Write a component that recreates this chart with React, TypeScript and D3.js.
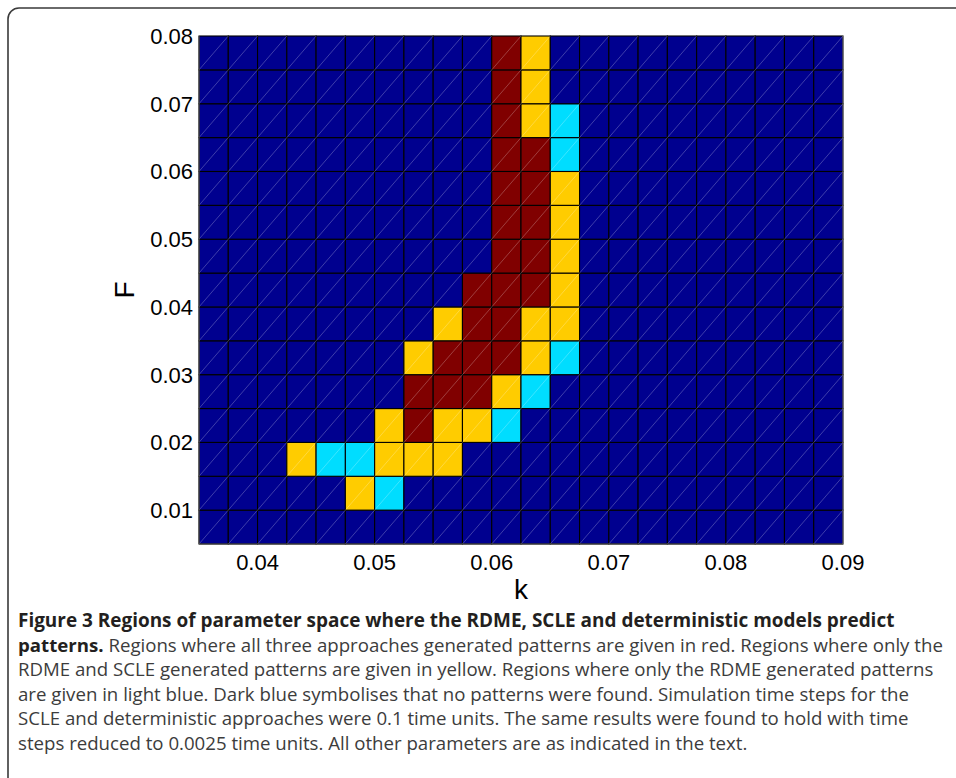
import React from "react";
import * as d3 from "d3";

// Grid cell lower-left corners (k, F)
const kCells = [0.035, 0.0375, 0.04, 0.0425, 0.045, 0.0475, 0.05, 0.0525, 0.055, 0.0575, 0.06, 0.0625, 0.065, 0.0675, 0.07, 0.0725, 0.075, 0.0775, 0.08, 0.0825, 0.085, 0.0875];
const FCells = [0.005, 0.01, 0.015, 0.02, 0.025, 0.03, 0.035, 0.04, 0.045, 0.05, 0.055, 0.06, 0.065, 0.07, 0.075];
const kStep = 0.0025;
const FStep = 0.005;

// All three approaches (red)
const redCells: [number, number][] = [
  [0.06, 0.075], [0.06, 0.07], [0.06, 0.065],
  [0.06, 0.06], [0.0625, 0.06],
  [0.06, 0.055], [0.0625, 0.055],
  [0.06, 0.05], [0.0625, 0.05],
  [0.06, 0.045], [0.0625, 0.045],
  [0.0575, 0.04], [0.06, 0.04], [0.0625, 0.04],
  [0.0575, 0.035], [0.06, 0.035],
  [0.055, 0.03], [0.0575, 0.03], [0.06, 0.03],
  [0.0525, 0.025], [0.055, 0.025], [0.0575, 0.025],
  [0.0525, 0.02],
];
// RDME and SCLE (yellow)
const yellowCells: [number, number][] = [
  [0.0625, 0.075], [0.0625, 0.07], [0.0625, 0.065],
  [0.065, 0.055], [0.065, 0.05], [0.065, 0.045], [0.065, 0.04],
  [0.055, 0.035], [0.0625, 0.035], [0.065, 0.035],
  [0.0525, 0.03], [0.0625, 0.03],
  [0.06, 0.025],
  [0.05, 0.02], [0.055, 0.02], [0.0575, 0.02],
  [0.0425, 0.015], [0.05, 0.015], [0.0525, 0.015], [0.055, 0.015],
  [0.0475, 0.01],
];
// RDME only (light blue)
const cyanCells: [number, number][] = [
  [0.065, 0.065], [0.065, 0.06],
  [0.065, 0.03], [0.0625, 0.025], [0.06, 0.02],
  [0.045, 0.015], [0.0475, 0.015],
  [0.05, 0.01],
];

const xTicks = [0.04, 0.05, 0.06, 0.07, 0.08, 0.09];
const yTicks = [0.01, 0.02, 0.03, 0.04, 0.05, 0.06, 0.07, 0.08];
const xTickLabels = ["0.04", "0.05", "0.06", "0.07", "0.08", "0.09"];
const yTickLabels = ["0.01", "0.02", "0.03", "0.04", "0.05", "0.06", "0.07", "0.08"];

const captionLines: { bold: string; regular: string }[] = [
  { bold: "Figure 3 Regions of parameter space where the RDME, SCLE and deterministic models predict", regular: "" },
  { bold: "patterns.", regular: " Regions where all three approaches generated patterns are given in red. Regions where only the" },
  { bold: "", regular: "RDME and SCLE generated patterns are given in yellow. Regions where only the RDME generated patterns" },
  { bold: "", regular: "are given in light blue. Dark blue symbolises that no patterns were found. Simulation time steps for the" },
  { bold: "", regular: "SCLE and deterministic approaches were 0.1 time units. The same results were found to hold with time" },
  { bold: "", regular: "steps reduced to 0.0025 time units. All other parameters are as indicated in the text." },
];

const COLORS = { none: "#00008F", red: "#800000", yellow: "#FFCC00", cyan: "#00DDFF" };

export default function App() {
  const W = 956, H = 778;
  const x = d3.scaleLinear().domain([0.035, 0.09]).range([199, 843]);
  const y = d3.scaleLinear().domain([0.005, 0.08]).range([544, 36]);

  const key = (k: number, f: number) => `${k.toFixed(4)}_${f.toFixed(4)}`;
  const colorMap = new Map<string, string>();
  redCells.forEach(([k, f]) => colorMap.set(key(k, f), COLORS.red));
  yellowCells.forEach(([k, f]) => colorMap.set(key(k, f), COLORS.yellow));
  cyanCells.forEach(([k, f]) => colorMap.set(key(k, f), COLORS.cyan));

  const cells: { k: number; f: number; c: string }[] = [];
  FCells.forEach((f) => kCells.forEach((k) => cells.push({ k, f, c: colorMap.get(key(k, f)) || COLORS.none })));

  const tickFont = "'Liberation Sans', Arial, Helvetica, sans-serif";
  const capFont = "'Open Sans', 'Noto Sans', sans-serif";
  const capX = 18, capY0 = 627, capDy = 24.6;

  return (
    <svg width={W} height={H} style={{ position: "absolute", left: 0, top: 0, background: "#fff" }}>
      <rect x={0} y={0} width={W} height={H} fill="#fff" />
      <rect x={8} y={8} width={1100} height={1100} rx={11} ry={11} fill="none" stroke="#3a3a3a" strokeWidth={1.6} />
      <g>
        {cells.map((d, i) => {
          const x0 = x(d.k), x1 = x(d.k + kStep), y0 = y(d.f), y1 = y(d.f + FStep);
          return (
            <g key={i}>
              <rect x={x0} y={y1} width={x1 - x0} height={y0 - y1} fill={d.c} stroke="#000" strokeWidth={1.1} />
            </g>
          );
        })}
        {cells.map((d, i) => {
          const x0 = x(d.k), x1 = x(d.k + kStep), y0 = y(d.f), y1 = y(d.f + FStep);
          return <line key={"d" + i} x1={x0} y1={y0} x2={x1} y2={y1} stroke="#ffffff" strokeOpacity={0.35} strokeWidth={0.7} />;
        })}
        <line x1={x(0.035)} y1={y(0.005)} x2={x(0.09)} y2={y(0.005)} stroke="#555" strokeWidth={1} />
        <line x1={x(0.035)} y1={y(0.005)} x2={x(0.035)} y2={y(0.08)} stroke="#555" strokeWidth={1} />
        <line x1={x(0.09)} y1={y(0.005)} x2={x(0.09)} y2={y(0.08)} stroke="#888" strokeWidth={0.8} />
      </g>
      {yTicks.map((t, i) => (
        <text key={"y" + i} x={193} y={y(t)} dy="0.36em" textAnchor="end" fontFamily={tickFont} fontSize={22} fill="#000">
          {yTickLabels[i]}
        </text>
      ))}
      {xTicks.map((t, i) => (
        <text key={"x" + i} x={x(t)} y={570} textAnchor="middle" fontFamily={tickFont} fontSize={22} fill="#000">
          {xTickLabels[i]}
        </text>
      ))}
      <text x={521} y={599} textAnchor="middle" fontFamily={tickFont} fontSize={28} fill="#000">k</text>
      <text transform={`translate(134,290) rotate(-90)`} textAnchor="middle" fontFamily={tickFont} fontSize={28} fill="#000">F</text>
      {captionLines.map((l, i) => (
        <text key={"c" + i} x={capX} y={capY0 + i * capDy} fontFamily={capFont} fontSize={18.65}>
          {l.bold && <tspan fontWeight="bold" fontSize={i === 0 ? 18.95 : 18.65} fill="#231f20">{l.bold}</tspan>}
          {l.regular && <tspan fill="#3c3c3c">{l.regular}</tspan>}
        </text>
      ))}
    </svg>
  );
}
